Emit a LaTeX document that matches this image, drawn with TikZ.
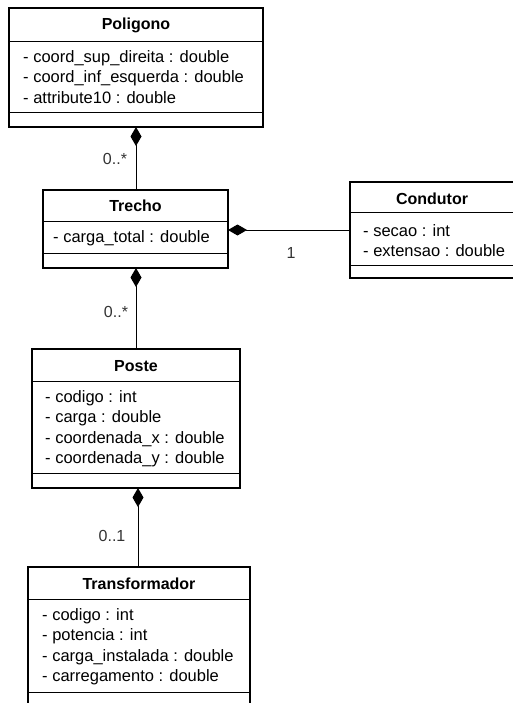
\documentclass[tikz,border=0pt]{standalone}
\usepackage{fontspec}
\setmainfont{Liberation Sans}
\usetikzlibrary{arrows.meta}
\tikzset{
  umlbox/.style={draw, line width=2pt, inner sep=0pt, outer sep=0pt, fill=white},
  sepline/.style={line width=1pt},
  ttl/.style={font=\fontsize{16}{19}\selectfont\bfseries, inner sep=0pt},
  attr/.style={font=\fontsize{16.5}{20}\selectfont, inner sep=0pt, anchor=west},
  mult/.style={font=\fontsize{16}{19}\selectfont, inner sep=0pt, text=black!80},
  comp/.style={line width=1pt, {Diamond[length=19pt,width=11pt]}-},
}
\begin{document}
\begin{tikzpicture}[x=1pt,y=-1pt]
\useasboundingbox (0,0) rectangle (513,703);
\fill[white] (0,0) rectangle (513,703);
\begin{scope}
\clip (0,0) rectangle (513,703);
% Poligono
\node[umlbox, minimum width=254pt, minimum height=119pt] (poli) at (136,67.5) {};
\draw[sepline] (poli.west |- 0,42) -- (poli.east |- 0,42);
\draw[sepline] (poli.west |- 0,113) -- (poli.east |- 0,113);
\node[ttl] (politl) at (136,25) {Poligono};
\node[attr] (pa1) at (23,58) {- coord\_sup\_direita : double};
\node[attr] (pa2) at (23,78) {- coord\_inf\_esquerda : double};
\node[attr] (pa3) at (23,98) {- attribute10 : double};
% Trecho
\node[umlbox, minimum width=185pt, minimum height=78pt] (trecho) at (135.5,229) {};
\draw[sepline] (trecho.west |- 0,222) -- (trecho.east |- 0,222);
\draw[sepline] (trecho.west |- 0,253) -- (trecho.east |- 0,253);
\node[ttl] (trtl) at (135.5,206) {Trecho};
\node[attr] (ta1) at (53,238) {- carga\_total : double};
% Condutor
\node[umlbox, minimum width=170pt, minimum height=96pt] (cond) at (435,230) {};
\draw[sepline] (cond.west |- 0,213) -- (cond.east |- 0,213);
\draw[sepline] (cond.west |- 0,265) -- (cond.east |- 0,265);
\node[ttl] (cotl) at (432,199) {Condutor};
\node[attr] (ca1) at (363,231) {- secao : int};
\node[attr] (ca2) at (363,251) {- extensao : double};
% Poste
\node[umlbox, minimum width=208pt, minimum height=139pt] (poste) at (136,418.5) {};
\draw[sepline] (poste.west |- 0,381) -- (poste.east |- 0,381);
\draw[sepline] (poste.west |- 0,473) -- (poste.east |- 0,473);
\node[ttl] (potl) at (136,366) {Poste};
\node[attr] (pp1) at (45,398) {- codigo : int};
\node[attr] (pp2) at (45,418) {- carga : double};
\node[attr] (pp3) at (45,439) {- coordenada\_x : double};
\node[attr] (pp4) at (45,459) {- coordenada\_y : double};
% Transformador
\node[umlbox, minimum width=222pt, minimum height=160pt] (trans) at (139,647) {};
\draw[sepline] (trans.west |- 0,599) -- (trans.east |- 0,599);
\draw[sepline] (trans.west |- 0,692) -- (trans.east |- 0,692);
\node[ttl] (tftl) at (139,584) {Transformador};
\node[attr] (tf1) at (42,616) {- codigo : int};
\node[attr] (tf2) at (42,636) {- potencia : int};
\node[attr] (tf3) at (42,657) {- carga\_instalada : double};
\node[attr] (tf4) at (42,677) {- carregamento : double};
\end{scope}
% connectors
\draw[comp] (poli.south) -- (poli.south |- trecho.north);
\node[mult] (m1) at (115,159) {0..*};
\draw[comp] (trecho.east |- 0,230) -- (cond.west |- 0,230);
\node[mult] (m2) at (291,253) {1};
\draw[comp] (trecho.south -| 136,0) -- (poste.north -| 136,0);
\node[mult] (m3) at (116,312) {0..*};
\draw[comp] (poste.south -| 138,0) -- (trans.north -| 138,0);
\node[mult] (m4) at (112,536) {0..1};
\end{tikzpicture}
\end{document}
